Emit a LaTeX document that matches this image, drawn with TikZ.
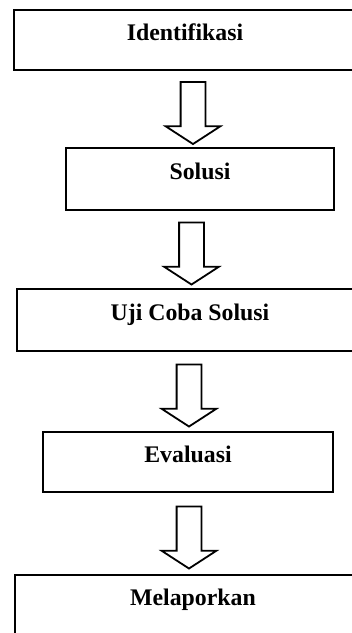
\documentclass[tikz,border=0pt]{standalone}
\usepackage{fontspec}
\setmainfont{Liberation Serif}
\usetikzlibrary{calc}
\usetikzlibrary{shapes.arrows}

\begin{document}
\begin{tikzpicture}[x=1pt,y=-1pt,stepbox/.style={
      draw=black,
      line width=2.2pt,
      font=\fontsize{23.8}{28}\selectfont\bfseries,
      text height=15pt,
      text depth=15pt,
      inner sep=0pt
    },downarr/.style={
      single arrow,
      draw=black,
      line width=1.8pt,
      rotate=-90,
      inner xsep=0pt,
      inner ysep=11.5pt,
      single arrow head extend=15pt,
      single arrow tip angle=114,
      minimum height=62pt
    }]

\useasboundingbox (0,0) rectangle (352,633);

\node[stepbox, minimum width=342pt, minimum height=60pt] (iden) at (185,40) {Identifikasi};
\node[stepbox, minimum width=268pt, minimum height=62pt] (solu) at (200,179) {Solusi};
\node[stepbox, minimum width=346pt, minimum height=62pt] (uji) at (190,320) {Uji Coba Solusi};
\node[stepbox, minimum width=290pt, minimum height=60pt] (eval) at (188,462) {Evaluasi};
\node[stepbox, minimum width=356pt, minimum height=60pt] (lapor) at (193,605) {Melaporkan};

\node[downarr] (a1) at ($(iden.south)!.5!(solu.north)+(0.5,0)$) {};
\node[downarr] (a2) at ($(solu.south)!.5!(uji.north)+(-3.5,0)$) {};
\node[downarr] (a3) at ($(uji.south)!.5!(eval.north)$) {};
\node[downarr] (a4) at ($(eval.south)!.5!(lapor.north)+(-1.5,0)$) {};

\end{tikzpicture}
\end{document}
